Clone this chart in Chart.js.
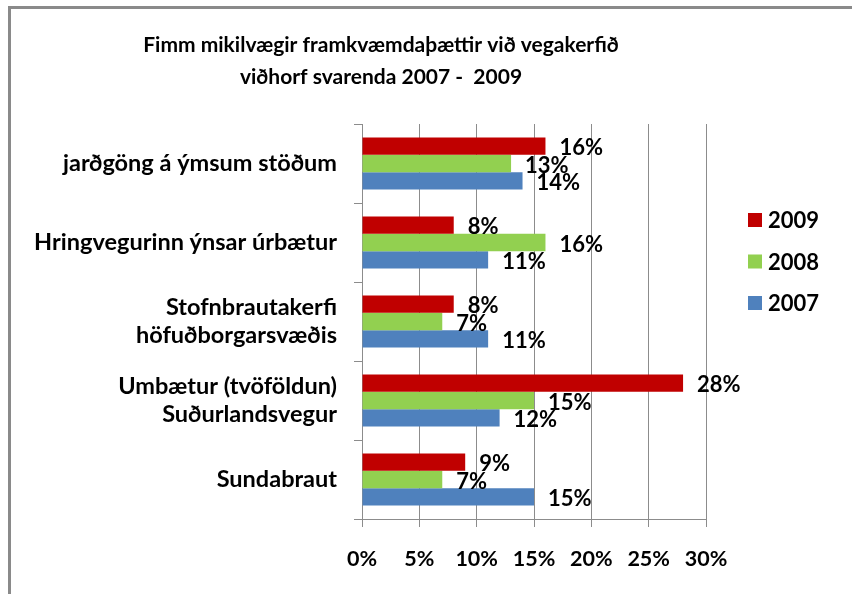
<!DOCTYPE html>
<html>
<head>
<meta charset="utf-8">
<script src="https://cdn.jsdelivr.net/npm/chart.js@4.4.1/dist/chart.umd.min.js"></script>
<style>
  html, body { margin: 0; padding: 0; background: #fff; }
  #wrap { position: relative; width: 852px; height: 594px; overflow: hidden; }
  #frame { position: absolute; left: 8px; top: 6px; right: -10px; bottom: -10px;
           border-top: 3px solid #8a8a8a; border-left: 3px solid #8a8a8a; }
  canvas { position: absolute; left: 0; top: 0; }
</style>
</head>
<body>
<div id="wrap">
  <div id="frame"></div>
  <canvas id="chart" width="852" height="594"></canvas>
</div>
<script>
  var categories = [
    'jarðgöng á ýmsum stöðum',
    'Hringvegurinn ýnsar úrbætur',
    ['Stofnbrautakerfi', 'höfuðborgarsvæðis'],
    ['Umbætur (tvöföldun)', 'Suðurlandsvegur'],
    'Sundabraut'
  ];
  var years = ['2009', '2008', '2007'];
  var values2009 = [16, 8, 8, 28, 9];
  var values2008 = [13, 16, 7, 15, 7];
  var values2007 = [14, 11, 11, 12, 15];
  var xMax = 30;
  var xStep = 5;

  var colors = {
    red: '#C00000',
    green: '#92D050',
    blue: '#4F81BD',
    grid: '#8c8c8c',
    text: '#000000'
  };

  Chart.defaults.font.family = 'Lato, "Liberation Sans", sans-serif';
  Chart.defaults.color = colors.text;

  // value labels to the right of each bar
  var barLabels = {
    id: 'barLabels',
    afterDatasetsDraw: function(chart) {
      var ctx = chart.ctx;
      ctx.save();
      ctx.font = 'bold 22px Lato, sans-serif';
      ctx.fillStyle = colors.text;
      ctx.textAlign = 'left';
      ctx.textBaseline = 'middle';
      chart.data.datasets.forEach(function(ds, i) {
        chart.getDatasetMeta(i).data.forEach(function(bar, j) {
          ctx.fillText(ds.data[j] + '%', bar.x + 14, bar.y + 2);
        });
      });
      ctx.restore();
    }
  };

  // legend on the right, drawn from the datasets
  var sideLegend = {
    id: 'sideLegend',
    afterDraw: function(chart) {
      var ctx = chart.ctx;
      var x = chart.chartArea.right + 42;
      var y = 220;
      ctx.save();
      ctx.font = 'bold 22px Lato, sans-serif';
      ctx.textBaseline = 'middle';
      ctx.textAlign = 'left';
      chart.data.datasets.forEach(function(ds) {
        ctx.fillStyle = ds.backgroundColor;
        ctx.fillRect(x, y - 7, 14, 14);
        ctx.fillStyle = colors.text;
        ctx.fillText(ds.label, x + 20, y + 1);
        y += 41.5;
      });
      ctx.restore();
    }
  };

  // the title sits a bit left of the canvas centre in the original
  var titleShift = {
    id: 'titleShift',
    afterLayout: function(chart) {
      chart.titleBlock.left = 56;
      chart.titleBlock.right = chart.chartArea.right;
    }
  };

  new Chart(document.getElementById('chart'), {
    type: 'bar',
    data: {
      labels: categories,
      datasets: [
        { label: years[0], data: values2009, backgroundColor: colors.red },
        { label: years[1], data: values2008, backgroundColor: colors.green },
        { label: years[2], data: values2007, backgroundColor: colors.blue }
      ]
    },
    options: {
      indexAxis: 'y',
      responsive: false,
      animation: false,
      layout: { padding: { left: 0, right: 146, top: 0, bottom: 0 } },
      datasets: {
        bar: { categoryPercentage: 0.66, barPercentage: 1.0 }
      },
      plugins: {
        legend: { display: false },
        tooltip: { enabled: false },
        title: {
          display: true,
          text: ['Fimm mikilvægir framkvæmdaþættir við vegakerfið', 'viðhorf svarenda 2007 -  2009'],
          color: colors.text,
          font: { size: 21, weight: 'bold', lineHeight: '32px' },
          padding: { top: 29, bottom: 31 }
        }
      },
      scales: {
        x: {
          min: 0,
          max: xMax,
          ticks: {
            stepSize: xStep,
            padding: 19,
            color: colors.text,
            font: { size: 21.5, weight: 'bold' },
            callback: function(v) { return v + '%'; }
          },
          grid: { color: colors.grid, tickLength: 8, tickColor: colors.grid },
          border: { display: true, color: colors.grid },
          afterFit: function(s) { s.height = 75; s.paddingLeft = 0; s.paddingRight = 0; }
        },
        y: {
          ticks: {
            padding: 17,
            color: colors.text,
            font: { size: 23.5, weight: 'bold', lineHeight: '28px' }
          },
          grid: { drawOnChartArea: false, tickLength: 8, tickColor: colors.grid, offset: true },
          border: { display: true, color: colors.grid },
          afterFit: function(s) { s.width = 362; s.paddingTop = 0; s.paddingBottom = 0; }
        }
      }
    },
    plugins: [barLabels, sideLegend, titleShift]
  });
</script>
</body>
</html>
